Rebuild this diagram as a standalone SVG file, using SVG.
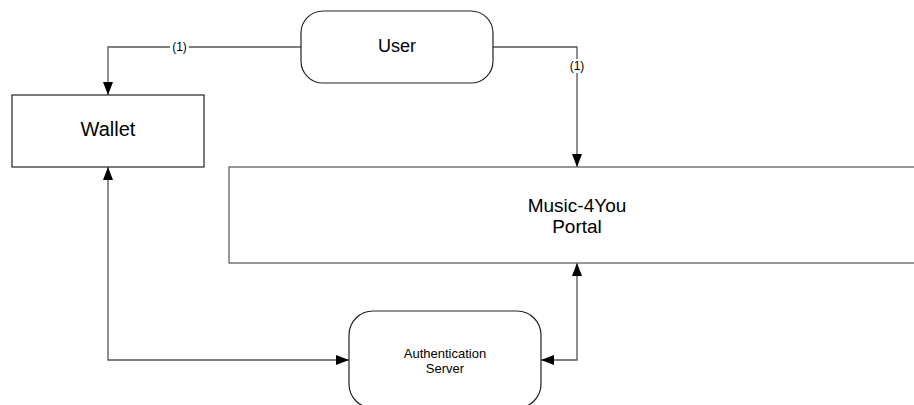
<svg xmlns="http://www.w3.org/2000/svg" width="914" height="405" viewBox="0 0 914 405">
  <style>
    .box { fill: #ffffff; stroke: #222222; stroke-width: 1.2; }
    .portal { fill: #ffffff; stroke: #555555; stroke-width: 1.2; }
    .conn { fill: none; stroke: #555555; stroke-width: 1.3; }
    .t { font-family: "Liberation Sans", Arial, sans-serif; fill: #000000; text-anchor: middle; }
    .lbl { font-family: "Liberation Sans", Arial, sans-serif; font-size: 12px; fill: #000000; text-anchor: middle; }
  </style>
  <defs>
    <marker id="arr" viewBox="0 0 13 10" refX="13" refY="5" markerWidth="13" markerHeight="10" markerUnits="userSpaceOnUse" orient="auto-start-reverse">
      <path d="M0,0 L13,5 L0,10 Z" fill="#000000"/>
    </marker>
  </defs>
  <rect x="0" y="0" width="914" height="405" fill="#ffffff"/>

  <g id="connectors">
    <path class="conn" d="M301,47 H108 V95" marker-end="url(#arr)"/>
    <path class="conn" d="M493,47 H577 V167" marker-end="url(#arr)"/>
    <path class="conn" d="M108,167 V360 H349" marker-start="url(#arr)" marker-end="url(#arr)"/>
    <path class="conn" d="M577,263 V360 H541" marker-start="url(#arr)" marker-end="url(#arr)"/>
    <rect x="170" y="40" width="19" height="14" fill="#ffffff"/>
    <text class="lbl" x="179.5" y="51">(1)</text>
    <rect x="568" y="59" width="18" height="14" fill="#ffffff"/>
    <text class="lbl" x="577" y="70">(1)</text>
  </g>

  <g id="user">
    <rect class="box" x="301" y="11" width="192" height="72" rx="22" ry="22"/>
    <text class="t" x="397" y="52" font-size="18">User</text>
  </g>

  <g id="wallet">
    <rect class="box" x="12" y="95" width="192" height="72"/>
    <text class="t" x="108" y="136" font-size="20">Wallet</text>
  </g>

  <g id="portal">
    <rect class="portal" x="229" y="167" width="700" height="96"/>
    <text class="t" x="577" y="212" font-size="19">Music-4You</text>
    <text class="t" x="577" y="233" font-size="19">Portal</text>
  </g>

  <g id="auth">
    <rect class="box" x="349" y="311" width="192" height="97" rx="24" ry="24"/>
    <text class="t" x="445" y="358" font-size="13">Authentication</text>
    <text class="t" x="445" y="373" font-size="13">Server</text>
  </g>
</svg>
